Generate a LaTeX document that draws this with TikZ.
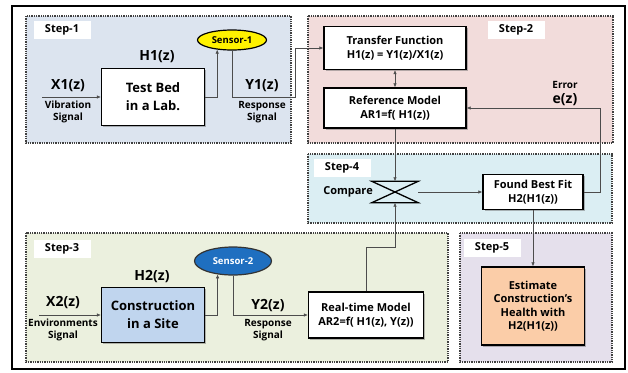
\documentclass[tikz,border=0pt]{standalone}
\usepackage{fontspec}
\setmainfont{Open Sans}
\usetikzlibrary{arrows.meta,shadows,shapes.geometric}

\definecolor{zoneone}{HTML}{DCE4EF}
\definecolor{zonetwo}{HTML}{F2DCDB}
\definecolor{zonethree}{HTML}{EBF0DE}
\definecolor{zonefour}{HTML}{DBEEF3}
\definecolor{zonefive}{HTML}{E5E0EC}
\definecolor{siteblue}{HTML}{C0D5EE}
\definecolor{healthorange}{HTML}{FBCDA8}
\definecolor{sensorblue}{HTML}{1F6FC0}

\begin{document}
\begin{tikzpicture}[x=1pt,y=-1pt]
					\tikzstyle{stepzone}=[draw=black!75,densely dotted,line width=1.3pt]
					\tikzstyle{steptag}=[fill=white,font=\bfseries\fontsize{11}{12}\selectfont,minimum width=57pt,minimum height=18pt,inner sep=0pt]
					\tikzstyle{block}=[draw=black,line width=1.3pt,fill=white,align=center,inner sep=1pt,font=\bfseries\fontsize{11}{13.5}\selectfont,drop shadow={shadow xshift=1.5pt,shadow yshift=-1.5pt,opacity=0.45,fill=black!60}]
					\tikzstyle{bigtext}=[font=\bfseries\fontsize{14}{18}\selectfont]
					\tikzstyle{blocktext}=[font=\bfseries\fontsize{13}{18}\selectfont]
					\tikzstyle{sig}=[align=center,font=\bfseries\fontsize{10}{12}\selectfont]
					\tikzstyle{sensor}=[draw,ellipse,line width=1.2pt,inner sep=0pt,font=\bfseries\fontsize{9.5}{10}\selectfont]
					\tikzstyle{wire}=[draw=black!70,line width=0.6pt]
					\tikzstyle{arr}=[wire,-{Latex[length=4pt,width=3.5pt]}]
					\fill[white] (0,0) rectangle (628,372);
					\useasboundingbox (0,0) rectangle (628,372);
					\draw[line width=1.6pt] (12,6) rectangle (625,369);
					% dotted zones
					\filldraw[stepzone,fill=zoneone] (26,16) rectangle (291,143);
					\filldraw[stepzone,fill=zonetwo] (308,16) rectangle (613,143);
					\filldraw[stepzone,fill=zonefour] (308,154) rectangle (612,223);
					\filldraw[stepzone,fill=zonethree] (26,233) rectangle (448,362);
					\filldraw[stepzone,fill=zonefive] (460,233) rectangle (612,362);
					\node[steptag] (tag1) at (62,30) {Step-1};
					\node[steptag] (tag2) at (516,30) {Step-2};
					\node[steptag] (tag4) at (342,168) {Step-4};
					\node[steptag] (tag3) at (62,249) {Step-3};
					\node[steptag] (tag5) at (492,248) {Step-5};
					% step 1
					\node[block,blocktext,minimum width=103pt,minimum height=57pt] (tb) at (153,97) {Test Bed\\in a Lab.};
					\node[bigtext] (h1) at (157,57) {H1(z)};
					\node[sensor,fill=yellow,minimum width=69pt,minimum height=20pt] (s1) at (232,40) {Sensor-1};
					\node[bigtext] (x1) at (68,86) {X1(z)};
					\node[sig] (vib) at (68,112) {Vibration\\Signal};
					\node[bigtext] (y1) at (262,86) {Y1(z)};
					\node[sig] (resp1) at (262,112) {Response\\Signal};
					\coordinate (x1in) at (42,97);
					\coordinate (j1) at (295,97);
					\draw[arr] (x1in) -- (tb.west);
					\draw[arr] (tb.east) -| (s1.-147);
					% step 2
					\node[block,minimum width=142pt,minimum height=43pt] (tf) at (395,48) {Transfer Function\\H1(z) = Y1(z)/X1(z)};
					\node[block,minimum width=142pt,minimum height=40pt] (rm) at (395,108) {Reference Model\\AR1=f( H1(z))};
					\draw[wire,{Latex[length=4pt,width=3.5pt]}-{Latex[length=4pt,width=3.5pt]}] (tf) -- (rm);
					\node[sig] (err) at (565,85) {Error};
					\node[bigtext] (ez) at (565,100) {e(z)};
					\draw[arr] (s1.south) |- (j1) |- (tf.west);
					% step 4
					\node[minimum width=46pt,minimum height=21pt,inner sep=0pt] (cmp) at (395,192) {};
					\draw[line width=1.3pt] (cmp.north west) -- (cmp.north east) -- (cmp.south west) -- (cmp.south east) -- cycle;
					\node[sig,font=\bfseries\fontsize{11}{12}\selectfont] (cmplab) at (348,192) {Compare};
					\node[block,minimum width=100pt,minimum height=35pt] (fbf) at (533,192) {Found Best Fit\\H2(H1(z))};
					\draw[arr] (rm.south) -- (cmp.north);
					\draw[arr] (cmp.east) -- (fbf.west);
					\draw[arr] (fbf.east) -- ++(17,0) |- (rm.east);
					% step 5
					\node[block,fill=healthorange,minimum width=103pt,minimum height=78pt] (est) at (533,306) {Estimate\\Construction’s\\Health with\\H2(H1(z))};
					\draw[arr] (fbf.south) -- (est.north);
					% step 3
					\node[block,blocktext,fill=siteblue,minimum width=103pt,minimum height=55pt] (cs) at (153,315) {Construction\\in a Site};
					\node[bigtext] (h2) at (152,277) {H2(z)};
					\node[sensor,fill=sensorblue,draw=black!80,text=white,minimum width=77pt,minimum height=28pt] (s2) at (233,261) {Sensor-2};
					\node[bigtext] (x2) at (63,303) {X2(z)};
					\node[sig] (env) at (63,330) {Environments\\Signal};
					\node[bigtext] (y2) at (268,306) {Y2(z)};
					\node[sig] (resp2) at (268,330) {Response\\Signal};
					\node[block,minimum width=115pt,minimum height=46pt] (rt) at (366,315) {Real-time Model\\AR2=f( H1(z), Y(z))};
					\coordinate (x2in) at (39,315);
					\draw[arr] (x2in) -- (cs.west);
					\draw[arr] (cs.east) -| (s2.-139);
					\draw[arr] (s2.south) |- (rt.west);
					\draw[arr] (rt.north) -- ++(0,-44) -| (cmp.south);
\end{tikzpicture}
\end{document}
